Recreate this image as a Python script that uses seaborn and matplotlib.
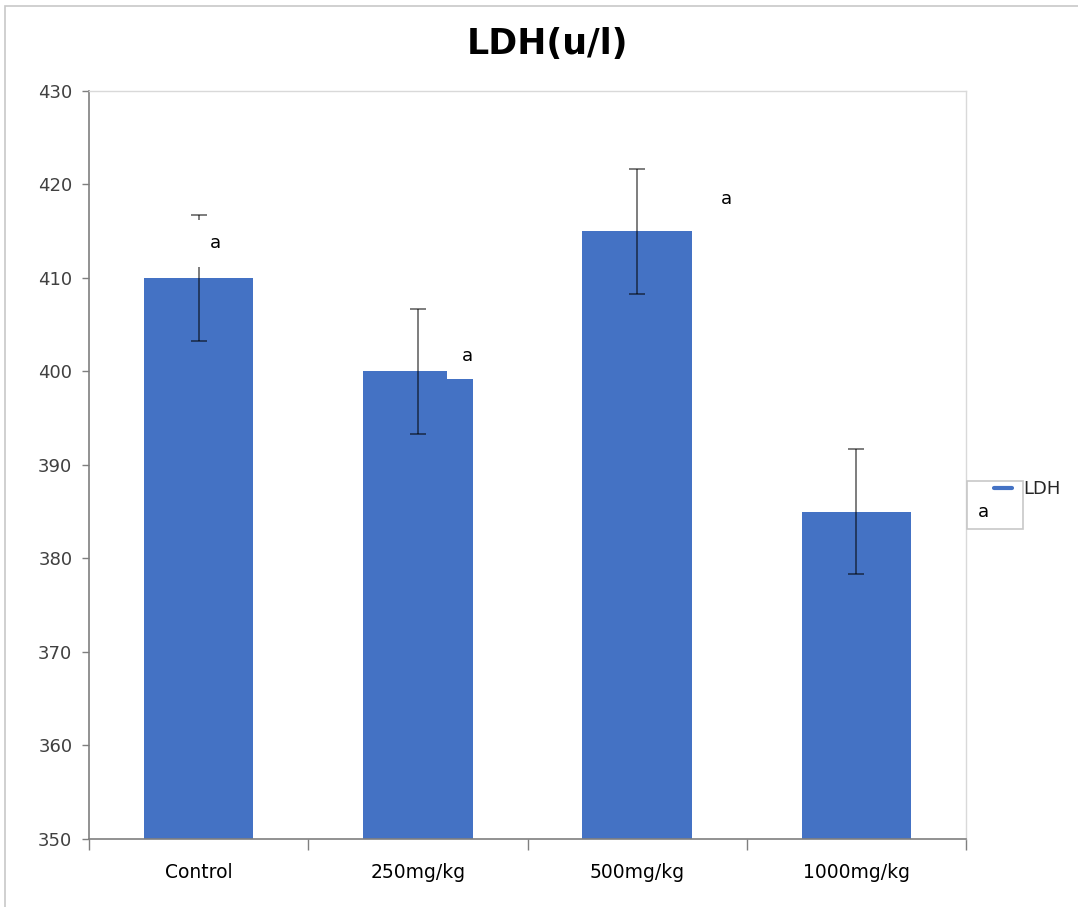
import numpy as np
import pandas as pd
import matplotlib.pyplot as plt
import seaborn as sns
from matplotlib.patches import Rectangle
from matplotlib.lines import Line2D

sns.set_theme(style='white', context='notebook')
plt.rcParams['font.family'] = ['DejaVu Sans']

#~~~~~~~~~~~~~~~~~~~~~~~~~~~~~~~~~~~~~~~~~~#
### Define data.
#~~~~~~~~~~~~~~~~~~~~~~~~~~~~~~~~~~~~~~~~~~#

categories = ['Control', '250mg/kg', '500mg/kg', '1000mg/kg']
ldh = [410, 400, 415, 385]
ldh_err = [6.7, 6.7, 6.7, 6.7]
letters = ['a', 'a', 'a', 'a']
yticks = [350, 360, 370, 380, 390, 400, 410, 420, 430]

## Label offsets (x in category units, y in data units).
label_dx = [0.075, 0.224, 0.405, 0.58]
label_dy = [3.7, 1.7, 3.4, 0.0]

## Styles.
barcolor = '#4472C4'
tickcolor = '#404040'
darkaxis = '#7f7f7f'
lightaxis = '#d9d9d9'

#~~~~~~~~~~~~~~~~~~~~~~~~~~~~~~~~~~~~~~~~~~#
### Initialize canvas.
#~~~~~~~~~~~~~~~~~~~~~~~~~~~~~~~~~~~~~~~~~~#

fig = plt.figure(figsize=(10.78, 9.07), dpi=100)
ax = fig.add_axes([0.0826, 0.075, 0.8136, 0.8247])

## Outer frame.
fig.add_artist(Rectangle((0.005, -0.05), 1.2, 1.043, transform=fig.transFigure,
                         fill=False, ec='#c8c8c8', lw=1.2))

#~~~~~~~~~~~~~~~~~~~~~~~~~~~~~~~~~~~~~~~~~~#
### Plot bars.
#~~~~~~~~~~~~~~~~~~~~~~~~~~~~~~~~~~~~~~~~~~#

df = pd.DataFrame({'group': categories, 'ldh': ldh, 'err': ldh_err})
sns.barplot(x='group', y='ldh', data=df, order=categories, color=barcolor,
            saturation=1, width=0.5, errorbar=None, linewidth=0, ax=ax, zorder=2)

## Error bars.
xpos = np.arange(len(categories))
ax.errorbar(xpos, df.ldh, yerr=df.err, fmt='none', ecolor='black', alpha=0.55,
            elinewidth=1.3, capsize=6, capthick=1.3, zorder=3)

## Significance letters.
for i, (v, l) in enumerate(zip(ldh, letters)):
    if i == 3:
        box = None
    else:
        box = dict(boxstyle='square,pad=0.8', fc='white', ec='none')
    ax.text(xpos[i] + label_dx[i], v + label_dy[i], l, ha='center', va='center',
            fontsize=13, color='black', bbox=box, zorder=6, clip_on=False)

## Label box of the last group (overlaps the legend).
ax.add_patch(Rectangle((1.001, 0.4144), 0.064, 0.0642, transform=ax.transAxes,
                       fc='white', ec='#c8c8c8', lw=1.2, clip_on=False, zorder=5))

#~~~~~~~~~~~~~~~~~~~~~~~~~~~~~~~~~~~~~~~~~~#
### Adjust axes.
#~~~~~~~~~~~~~~~~~~~~~~~~~~~~~~~~~~~~~~~~~~#

ax.set(ylim=(350, 430), xlim=(-0.5, 3.5), xlabel='', ylabel='')
ax.set_yticks(yticks)
ax.set_yticklabels(yticks, color=tickcolor, fontsize=13)
ax.set_xticks(xpos)
ax.set_xticklabels(categories, color='black', fontsize=13.5)
ax.tick_params(axis='x', length=0, pad=17)
ax.tick_params(axis='y', left=True, length=5, width=1, color=darkaxis, pad=7)

## Category boundary ticks.
ax.set_xticks(np.arange(-0.5, 4.0, 1.0), minor=True)
ax.tick_params(axis='x', which='minor', bottom=True, length=8, width=1, color=darkaxis)

for side in ['left', 'bottom']:
    ax.spines[side].set(color=darkaxis, linewidth=1.2)
for side in ['top', 'right']:
    ax.spines[side].set(color=lightaxis, linewidth=1)

## Title.
fig.text(0.508, 0.951, 'LDH(u/l)', ha='center', va='center', fontsize=25,
         fontweight='bold', color='black')

## Legend.
handles = [Line2D([], [], color=barcolor, lw=3)]
leg = fig.legend(handles, ['LDH'], loc='center left', bbox_to_anchor=(0.922, 0.461),
                 frameon=False, fontsize=13, handlelength=1.0, handletextpad=0.6,
                 borderpad=0, borderaxespad=0)
leg.set_zorder(1)

fig.savefig('out.png', dpi=100)
